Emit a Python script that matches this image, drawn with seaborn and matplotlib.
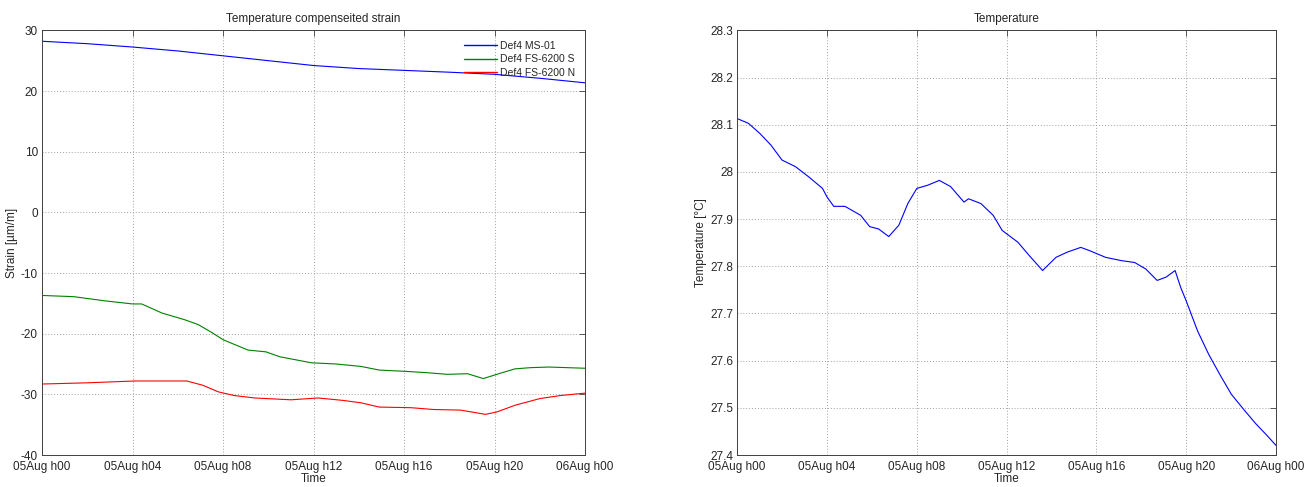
import matplotlib
matplotlib.use("Agg")
import matplotlib.pyplot as plt
from matplotlib.lines import Line2D
import seaborn as sns
import pandas as pd

# ---- data (hours since 05Aug h00) ----
ms01_hours = [0, 2, 4, 6, 8, 10, 12, 14, 16, 18, 20, 22, 24]
ms01_strain = [28.2, 27.8, 27.25, 26.6, 25.8, 25.0, 24.2, 23.7, 23.4, 23.1, 22.75, 22.1, 21.35]

fs_s_hours = [0, 1.4, 2.8, 4.0, 4.4, 5.3, 6.3, 6.9, 7.5, 8.0, 9.1, 9.9, 10.5, 11.9, 13.0,
              14.1, 14.9, 16.0, 16.9, 17.9, 18.8, 19.5, 20.1, 20.9, 21.6, 22.4, 24]
fs_s_strain = [-13.7, -13.9, -14.6, -15.1, -15.1, -16.6, -17.7, -18.5, -19.8, -21.0, -22.7, -23.0,
               -23.8, -24.8, -25.0, -25.4, -26.0, -26.2, -26.4, -26.7, -26.6, -27.4, -26.7,
               -25.8, -25.6, -25.5, -25.7]

fs_n_hours = [0, 2, 4.1, 6.4, 7.1, 7.8, 8.5, 9.4, 11, 12.2, 13.3, 14.1, 14.9, 16.3, 17.3,
              18.5, 19.6, 20.1, 20.9, 22, 22.9, 24]
fs_n_strain = [-28.3, -28.1, -27.8, -27.8, -28.5, -29.6, -30.2, -30.6, -30.9, -30.6, -31.0,
               -31.4, -32.1, -32.2, -32.5, -32.6, -33.3, -32.9, -31.8, -30.7, -30.2, -29.8]

temp_hours = [0, 0.5, 1.0, 1.5, 2.0, 2.6, 3.2, 3.8, 4.0, 4.3, 4.8, 5.5, 5.9, 6.3, 6.75, 7.2,
              7.6, 8.0, 8.5, 9.0, 9.5, 10.1, 10.3, 10.85, 11.4, 11.8, 12.5, 13.0, 13.6, 14.2,
              14.7, 15.3, 15.7, 16.4, 17.1, 17.7, 18.2, 18.7, 19.1, 19.5, 19.75, 20.0, 20.5,
              21.0, 21.5, 22.0, 22.6, 23.1, 23.6, 24]
temp_values = [28.113, 28.103, 28.082, 28.057, 28.025, 28.011, 27.989, 27.965, 27.947, 27.927,
               27.927, 27.908, 27.884, 27.879, 27.863, 27.887, 27.933, 27.965, 27.972, 27.982,
               27.969, 27.936, 27.943, 27.933, 27.908, 27.876, 27.851, 27.823, 27.791, 27.819,
               27.830, 27.840, 27.833, 27.819, 27.812, 27.808, 27.794, 27.770, 27.777, 27.791,
               27.755, 27.726, 27.663, 27.613, 27.570, 27.529, 27.494, 27.466, 27.441, 27.420]

tick_hours = [0, 4, 8, 12, 16, 20, 24]
tick_labels = ["05Aug h00", "05Aug h04", "05Aug h08", "05Aug h12", "05Aug h16", "05Aug h20", "06Aug h00"]
series_names = ["Def4 MS-01", "Def4 FS-6200 S", "Def4 FS-6200 N"]
series_colors = ["#0000ff", "#008000", "#ff0000"]

sns.set_style("white")
plt.rcParams["font.family"] = ["Liberation Sans", "DejaVu Sans"]
plt.rcParams["axes.unicode_minus"] = False

fig = plt.figure(figsize=(13.14, 4.87), dpi=100)
ax1 = fig.add_axes([0.032, 0.0657, 0.4133, 0.872])
ax2 = fig.add_axes([0.561, 0.0657, 0.4102, 0.872])

series = [(ms01_hours, ms01_strain), (fs_s_hours, fs_s_strain), (fs_n_hours, fs_n_strain)]
for (hrs, vals), col in zip(series, series_colors):
    df = pd.DataFrame({"Time": hrs, "Strain": vals})
    sns.lineplot(data=df, x="Time", y="Strain", color=col, linewidth=0.8, ax=ax1)

temp_df = pd.DataFrame({"Time": temp_hours, "Temperature": temp_values})
sns.lineplot(data=temp_df, x="Time", y="Temperature", color="#0000ff", linewidth=0.8, ax=ax2)

fs = 8.5
for ax in (ax1, ax2):
    ax.set_xlim(0, 24)
    ax.set_xticks(tick_hours)
    ax.set_xticklabels(tick_labels, fontsize=fs)
    ax.grid(True, linestyle=(0, (1, 2)), color="#a0a0a0", linewidth=0.7)
    ax.tick_params(direction="in", length=4, width=0.6, top=True, right=True,
                   labelsize=fs, color="#404040")
    ax.tick_params(axis="x", pad=4)
    ax.tick_params(axis="y", pad=3)
    for s in ax.spines.values():
        s.set_color("#404040")
        s.set_linewidth(0.7)
    ax.set_xlabel("Time", fontsize=fs, labelpad=0)

ax1.set_ylim(-40, 30)
ax1.set_yticks([-40, -30, -20, -10, 0, 10, 20, 30])
ax1.set_ylabel("Strain [\u00b5m/m]", fontsize=fs, labelpad=2)
ax1.set_title("Temperature compenseited strain", fontsize=fs, pad=6)
legend_handles = [Line2D([0], [0], color=c, linewidth=1.0) for c in series_colors]
ax1.legend(handles=legend_handles, labels=series_names, loc="upper right", frameon=False,
           fontsize=7.5, handlelength=3.2, handletextpad=0.2, labelspacing=0.35,
           borderaxespad=0.6)

ax2.set_ylim(27.4, 28.3)
ax2.set_yticks([27.4, 27.5, 27.6, 27.7, 27.8, 27.9, 28.0, 28.1, 28.2, 28.3])
ax2.set_yticklabels(["27.4", "27.5", "27.6", "27.7", "27.8", "27.9", "28", "28.1", "28.2", "28.3"])
ax2.set_ylabel("Temperature [\u00b0C]", fontsize=fs, labelpad=2)
ax2.set_title("Temperature", fontsize=fs, pad=6)

fig.savefig("out.png", dpi=100)
